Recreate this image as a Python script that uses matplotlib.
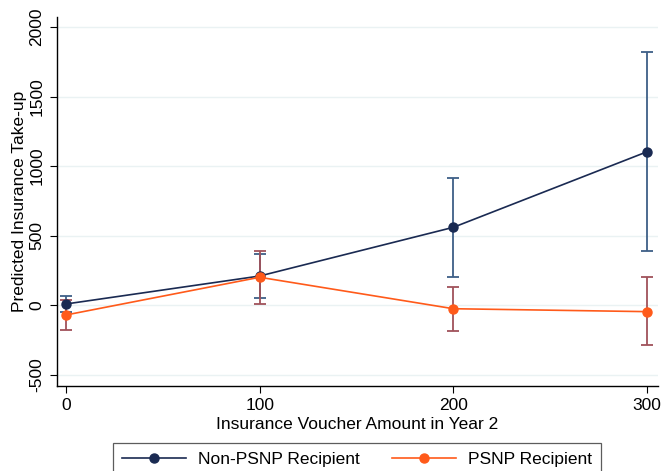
import matplotlib
matplotlib.use("Agg")
import matplotlib.pyplot as plt
import numpy as np

plt.rcParams['font.family'] = ['Liberation Sans', 'DejaVu Sans']

voucher = [0, 100, 200, 300]
non_psnp = [10, 211, 561, 1104]
non_psnp_lo = [-45, 53, 204, 391]
non_psnp_hi = [65, 369, 917, 1820]
psnp = [-69, 202, -24, -45]
psnp_lo = [-177, 8, -184, -287]
psnp_hi = [39, 391, 134, 202]
yticks = [-500, 0, 500, 1000, 1500, 2000]
xticks = [0, 100, 200, 300]

navy = '#1a2a52'
navy_ci = '#3e5f87'
orange = '#ff5a1a'
orange_ci = '#a0525a'
grid_c = '#eaf2f3'
fs = 12.5

fig = plt.figure(figsize=(6.62, 4.71), dpi=100)
ax = fig.add_axes([0.0861, 0.1805, 0.9079, 0.7835])

def err(v, lo, hi):
    v = np.array(v); return np.vstack([v - np.array(lo), np.array(hi) - v])

ax.errorbar(voucher, non_psnp, yerr=err(non_psnp, non_psnp_lo, non_psnp_hi),
            fmt='none', ecolor=navy_ci, elinewidth=1.3, capsize=4, capthick=1.3, zorder=2)
ax.errorbar(voucher, psnp, yerr=err(psnp, psnp_lo, psnp_hi),
            fmt='none', ecolor=orange_ci, elinewidth=1.3, capsize=4, capthick=1.3, zorder=2)
ax.plot(voucher, non_psnp, color=navy, lw=1.2, marker='o', ms=6.5, zorder=3,
        label='Non-PSNP Recipient')
ax.plot(voucher, psnp, color=orange, lw=1.2, marker='o', ms=6.5, zorder=4,
        label='PSNP Recipient')

ax.set_xlim(-4.6, 305.6)
ax.set_ylim(-579, 2072)
ax.set_xticks(xticks)
ax.set_yticks(yticks)
ax.set_yticklabels([str(t) for t in yticks], rotation=90, va='center')
ax.tick_params(axis='both', labelsize=fs, length=5, width=0.8, color='black')
ax.tick_params(axis='y', pad=4)
ax.yaxis.grid(True, color=grid_c, lw=1.0)
ax.set_axisbelow(True)
for s in ['top', 'right']:
    ax.spines[s].set_visible(False)
for s in ['left', 'bottom']:
    ax.spines[s].set_linewidth(1.0)

ax.set_xlabel('Insurance Voucher Amount in Year 2', fontsize=fs, labelpad=3)
ax.set_ylabel('Predicted Insurance Take-up', fontsize=fs, labelpad=2)

leg = fig.legend(loc='center', bbox_to_anchor=(357/662, 12/471), ncol=2,
                 fontsize=fs, handlelength=3.7, columnspacing=1.8,
                 frameon=True, fancybox=False, edgecolor='#333333',
                 borderpad=0.5, handletextpad=0.7)
leg.get_frame().set_linewidth(0.9)

fig.savefig('out.png', dpi=100)
